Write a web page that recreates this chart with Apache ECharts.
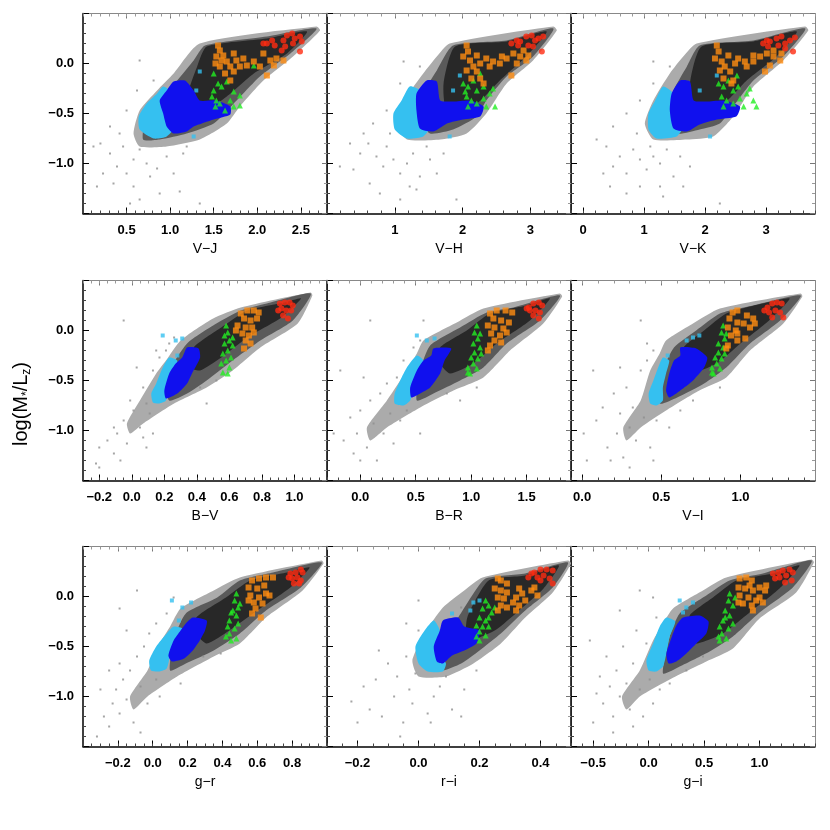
<!DOCTYPE html>
<html>
<head>
<meta charset="utf-8">
<script src="https://cdn.jsdelivr.net/npm/echarts@6/dist/echarts.min.js"></script>
<style>
  html, body { margin: 0; padding: 0; background: #fff; }
  #chart { width: 830px; height: 830px; }
</style>
</head>
<body>
<div id="chart"></div>
<script>
// ---------- axes ----------
const xNames = ['V\u2212J', 'V\u2212H', 'V\u2212K', 'B\u2212V', 'B\u2212R', 'V\u2212I', 'g\u2212r', 'r\u2212i', 'g\u2212i'];
const xMins = [0, 0, -0.2, -0.3, -0.3, -0.07, -0.4, -0.3, -0.7];
const xMaxs = [2.8, 3.6, 3.8, 1.2, 1.9, 1.47, 1.0, 0.5, 1.5];
const xMajor = [
  [0.5, 1.0, 1.5, 2.0, 2.5], [1, 2, 3], [0, 1, 2, 3],
  [-0.2, 0.0, 0.2, 0.4, 0.6, 0.8, 1.0], [0.0, 0.5, 1.0, 1.5], [0.0, 0.5, 1.0],
  [-0.2, 0.0, 0.2, 0.4, 0.6, 0.8], [-0.2, 0.0, 0.2, 0.4], [-0.5, 0.0, 0.5, 1.0]
];
const xMinorStep = [0.1, 0.2, 0.2, 0.05, 0.1, 0.1, 0.05, 0.05, 0.1];
const xDecimals = [1, 0, 0, 1, 1, 1, 1, 1, 1];
const yMin = -1.5, yMax = 0.5, yStep = 0.5;

// ---------- V-J ----------
const vjHalo = [[1.34,0.20],[2.68,0.37],[2.72,0.33],[2.41,0.07],[2.07,-0.17],[1.80,-0.43],[1.65,-0.60],[1.34,-0.76],[0.96,-0.83],[0.65,-0.83],[0.58,-0.70],[0.65,-0.47],[0.85,-0.27],[1.04,-0.10]];
const vjDense = [[1.40,0.18],[2.11,0.27],[2.68,0.35],[2.38,0.10],[2.03,-0.13],[1.73,-0.40],[1.50,-0.60],[1.19,-0.70],[0.88,-0.76],[0.69,-0.76],[0.73,-0.50],[0.88,-0.33],[1.08,-0.17],[1.27,0.03]];
const vjCore = [[1.42,0.17],[2.11,0.25],[2.57,0.32],[2.34,0.10],[1.96,-0.10],[1.65,-0.33],[1.34,-0.50],[1.19,-0.37],[1.31,-0.03]];
const vjSparse = [[0.20,-0.80],[0.31,-0.90],[0.39,-1.03],[0.50,-1.10],[0.58,-0.96],[0.65,-0.86],[0.42,-0.70],[0.23,-1.10],[0.12,-0.83],[0.58,-1.23],[0.77,-1.13],[0.96,-0.93],[1.04,-1.10],[1.15,-0.90],[0.88,-1.30],[0.35,-1.20],[0.65,-1.36],[1.34,-1.40],[0.50,-0.47],[0.62,-0.27],[0.65,0.03],[0.81,-0.17],[0.31,-0.63],[0.16,-1.23],[0.73,-1.00],[0.46,-0.83],[1.11,-1.28],[0.85,-1.05],[1.19,-0.83],[0.54,-1.40]];
const vjCyan = [[0.92,-0.23],[1.04,-0.30],[1.00,-0.47],[1.08,-0.60],[0.96,-0.73],[0.81,-0.75],[0.65,-0.66],[0.64,-0.53],[0.73,-0.40],[0.85,-0.30]];
const vjCyanPts = [[1.34,-0.08],[1.30,-0.27],[1.27,-0.73]];
const vjBlue = [[1.04,-0.18],[1.17,-0.17],[1.27,-0.27],[1.34,-0.37],[1.53,-0.37],[1.69,-0.43],[1.69,-0.51],[1.50,-0.56],[1.27,-0.63],[1.19,-0.68],[1.04,-0.70],[0.96,-0.63],[0.92,-0.50],[0.88,-0.37],[0.96,-0.27]];
const vjGreen = [[1.50,-0.10],[1.55,-0.20],[1.59,-0.23],[1.65,-0.18],[1.73,-0.28],[1.80,-0.32],[1.50,-0.27],[1.53,-0.37],[1.57,-0.40],[1.69,-0.37],[1.73,-0.43],[1.80,-0.42],[1.52,-0.43],[1.48,-0.33],[1.96,-0.02],[1.63,-0.47]];
const vjOrange = [[1.55,0.18],[1.57,0.13],[1.53,0.07],[1.61,0.08],[1.65,0.02],[1.69,-0.03],[1.73,-0.08],[1.57,-0.03],[1.63,-0.10],[1.69,-0.17],[1.76,0.03],[1.84,0.05],[1.96,0.02],[2.07,0.10],[2.15,0.03],[2.22,0.05],[2.30,0.03],[2.11,-0.12],[2.03,-0.03],[1.88,-0.02],[1.80,-0.03],[1.52,0.00],[1.59,0.03],[2.19,-0.02],[1.73,0.10]];
const vjRed = [[2.11,0.20],[2.17,0.23],[2.20,0.18],[2.30,0.23],[2.34,0.28],[2.40,0.30],[2.43,0.25],[2.49,0.27],[2.51,0.22],[2.32,0.17],[2.41,0.20],[2.49,0.12],[2.28,0.13],[2.07,0.20]];

// ---------- V-H ----------
const vhHalo = [[1.81,0.20],[3.34,0.37],[3.39,0.33],[3.04,0.03],[2.65,-0.20],[2.35,-0.50],[2.06,-0.70],[1.67,-0.76],[1.18,-0.76],[1.03,-0.60],[1.18,-0.33],[1.42,-0.10],[1.62,0.07]];
const vhDense = [[1.86,0.18],[2.65,0.23],[3.34,0.35],[3.04,0.07],[2.65,-0.13],[2.35,-0.37],[2.21,-0.53],[1.86,-0.66],[1.52,-0.70],[1.37,-0.56],[1.42,-0.30],[1.62,-0.07]];
const vhCore = [[1.89,0.17],[2.65,0.22],[3.24,0.32],[2.94,0.07],[2.55,-0.17],[2.21,-0.40],[1.77,-0.47],[1.72,-0.20]];
const vhSparse = [[0.34,-0.80],[0.49,-0.90],[0.63,-1.20],[0.73,-0.93],[0.83,-1.03],[0.88,-0.83],[0.98,-0.96],[1.08,-1.10],[1.18,-1.00],[1.27,-0.90],[1.37,-1.13],[1.47,-0.83],[0.78,-1.30],[1.08,-1.36],[1.62,-1.10],[1.91,-1.36],[0.54,-0.70],[0.68,-0.60],[0.88,-0.47],[1.08,-0.20],[1.13,0.02],[1.37,-0.03],[0.19,-1.03],[1.22,-1.23],[1.52,-0.96],[1.72,-0.90],[0.93,-0.70],[0.39,-1.06],[0.61,-0.80],[1.32,-1.26]];
const vhCyan = [[1.22,-0.23],[1.37,-0.27],[1.37,-0.47],[1.52,-0.63],[1.42,-0.73],[1.18,-0.75],[1.00,-0.66],[0.98,-0.50],[1.10,-0.37]];
const vhCyanPts = [[1.86,-0.27],[1.81,-0.73],[1.96,-0.12]];
const vhBlue = [[1.47,-0.17],[1.62,-0.18],[1.67,-0.37],[1.86,-0.38],[2.11,-0.37],[2.31,-0.43],[2.26,-0.53],[2.01,-0.56],[1.77,-0.60],[1.57,-0.68],[1.37,-0.65],[1.32,-0.47],[1.32,-0.30]];
const vhGreen = [[2.01,-0.20],[2.08,-0.23],[2.16,-0.17],[2.21,-0.27],[2.31,-0.23],[2.40,-0.30],[2.45,-0.25],[2.06,-0.33],[2.13,-0.37],[2.21,-0.40],[2.31,-0.35],[2.35,-0.43],[2.48,-0.43],[2.08,-0.43],[2.26,-0.10],[2.04,-0.28]];
const vhOrange = [[2.06,0.18],[2.08,0.12],[2.01,0.07],[2.11,0.03],[2.16,-0.03],[2.21,-0.08],[2.06,-0.07],[2.26,-0.15],[2.31,-0.20],[2.21,0.08],[2.35,0.05],[2.45,0.02],[2.55,0.00],[2.65,0.05],[2.75,0.10],[2.85,0.07],[2.94,0.03],[2.80,0.00],[2.72,-0.12],[2.90,0.13],[2.13,-0.15],[2.40,-0.03],[2.58,0.07],[2.97,0.08],[2.26,0.00]];
const vhRed = [[2.72,0.20],[2.80,0.23],[2.85,0.22],[2.94,0.27],[3.02,0.28],[3.07,0.23],[3.12,0.25],[3.19,0.27],[2.97,0.18],[3.04,0.17],[3.17,0.12],[2.82,0.18]];

// ---------- V-K ----------
const vkHalo = [[1.86,0.20],[3.64,0.37],[3.69,0.33],[3.28,0.03],[2.79,-0.23],[2.46,-0.53],[2.13,-0.73],[1.70,-0.76],[1.15,-0.76],[1.01,-0.60],[1.15,-0.37],[1.42,-0.10],[1.64,0.07]];
const vkDense = [[1.91,0.18],[2.79,0.23],[3.64,0.35],[3.28,0.07],[2.79,-0.17],[2.46,-0.43],[2.24,-0.60],[1.91,-0.66],[1.53,-0.70],[1.37,-0.53],[1.48,-0.27],[1.70,-0.03]];
const vkCore = [[1.94,0.17],[2.79,0.22],[3.50,0.32],[3.17,0.07],[2.68,-0.17],[2.30,-0.40],[1.81,-0.47],[1.75,-0.20]];
const vkSparse = [[0.22,-0.76],[0.38,-0.83],[0.49,-1.03],[0.60,-0.93],[0.71,-1.10],[0.82,-0.86],[0.93,-0.96],[1.04,-1.06],[1.15,-0.93],[1.26,-1.00],[1.37,-0.86],[1.48,-1.13],[0.71,-1.30],[0.93,-1.23],[1.64,-1.23],[2.24,-1.40],[0.49,-0.63],[0.71,-0.50],[0.93,-0.37],[1.15,-0.20],[1.15,0.02],[1.42,-0.03],[0.33,-1.10],[1.26,-1.23],[1.59,-0.93],[1.75,-1.03],[0.88,-0.70],[0.44,-1.23],[1.10,-0.83],[1.31,-1.33]];
const vkCyan = [[1.31,-0.23],[1.48,-0.30],[1.48,-0.47],[1.64,-0.63],[1.53,-0.73],[1.20,-0.75],[1.07,-0.66],[1.07,-0.50],[1.18,-0.37]];
const vkCyanPts = [[2.08,-0.73],[2.19,-0.12],[1.91,-0.27]];
const vkBlue = [[1.59,-0.17],[1.75,-0.18],[1.81,-0.37],[2.02,-0.38],[2.30,-0.37],[2.57,-0.43],[2.51,-0.53],[2.19,-0.56],[1.91,-0.61],[1.70,-0.68],[1.48,-0.65],[1.42,-0.47],[1.45,-0.30]];
const vkGreen = [[2.22,-0.20],[2.30,-0.23],[2.38,-0.17],[2.46,-0.27],[2.54,-0.23],[2.68,-0.30],[2.73,-0.25],[2.27,-0.33],[2.35,-0.37],[2.46,-0.40],[2.57,-0.35],[2.63,-0.43],[2.84,-0.43],[2.30,-0.43],[2.52,-0.12],[2.79,-0.37]];
const vkOrange = [[2.19,0.18],[2.22,0.12],[2.16,0.05],[2.27,0.02],[2.32,-0.03],[2.41,-0.08],[2.24,-0.07],[2.46,-0.17],[2.43,-0.20],[2.38,0.08],[2.54,0.05],[2.65,0.02],[2.79,0.02],[2.90,0.07],[3.01,0.10],[3.12,0.07],[3.23,0.03],[3.06,-0.02],[2.98,-0.08],[3.12,0.13],[2.30,-0.15],[2.68,-0.03],[2.79,0.08],[3.25,0.10],[2.49,0.00]];
const vkRed = [[2.95,0.20],[3.01,0.23],[3.06,0.22],[3.17,0.25],[3.25,0.27],[3.31,0.20],[3.39,0.23],[3.47,0.26],[3.20,0.18],[3.31,0.15],[3.44,0.12],[3.03,0.17]];

// ---------- B-V ----------
const bvHalo = [[0.30,-0.10],[0.50,0.12],[0.67,0.23],[1.10,0.38],[1.11,0.35],[1.02,0.07],[0.79,-0.17],[0.62,-0.40],[0.46,-0.57],[0.26,-0.73],[0.07,-0.93],[-0.01,-1.03],[-0.03,-0.93],[0.05,-0.70],[0.15,-0.43],[0.21,-0.30]];
const bvDense = [[0.34,-0.13],[0.52,0.07],[0.67,0.20],[0.83,0.27],[1.10,0.37],[0.99,0.10],[0.79,-0.10],[0.62,-0.30],[0.46,-0.50],[0.34,-0.63],[0.23,-0.70],[0.21,-0.47]];
const bvCore = [[0.38,-0.17],[0.55,0.03],[0.71,0.20],[0.94,0.28],[1.04,0.32],[0.92,0.13],[0.71,-0.07],[0.55,-0.27],[0.42,-0.40],[0.36,-0.37]];
const bvSparse = [[-0.22,-1.33],[-0.20,-1.17],[-0.15,-1.10],[-0.11,-1.23],[-0.09,-1.03],[-0.07,-1.30],[-0.05,-0.90],[-0.03,-1.13],[0.01,-0.80],[0.05,-0.97],[0.07,-0.57],[0.09,-1.17],[0.13,-0.40],[0.17,-0.27],[0.15,-0.20],[0.23,-0.13],[0.07,-1.07],[-0.20,-1.37],[0.26,-0.07],[0.21,-0.20],[0.09,-0.73],[0.13,-1.03],[0.03,-0.37],[-0.01,-0.70],[-0.05,0.10],[0.11,-0.83],[-0.11,-0.97],[0.42,-0.57],[0.52,-0.50],[0.46,-0.73]];
const bvCyan = [[0.23,-0.27],[0.28,-0.30],[0.26,-0.43],[0.23,-0.57],[0.21,-0.70],[0.17,-0.73],[0.13,-0.72],[0.12,-0.63],[0.15,-0.53],[0.19,-0.37]];
const bvCyanPts = [[0.19,-0.05],[0.27,-0.10],[0.31,-0.08],[0.28,-0.25]];
const bvBlue = [[0.34,-0.17],[0.41,-0.18],[0.42,-0.27],[0.37,-0.43],[0.34,-0.53],[0.28,-0.63],[0.21,-0.68],[0.20,-0.60],[0.23,-0.43],[0.27,-0.33],[0.31,-0.27]];
const bvGreen = [[0.58,0.05],[0.59,-0.02],[0.60,-0.10],[0.57,-0.13],[0.62,-0.15],[0.59,-0.20],[0.56,-0.23],[0.61,-0.27],[0.58,-0.30],[0.55,-0.33],[0.60,-0.37],[0.56,-0.42],[0.59,-0.43],[0.62,-0.07],[0.57,-0.05]];
const bvOrange = [[0.67,0.17],[0.71,0.20],[0.75,0.20],[0.78,0.18],[0.69,0.12],[0.73,0.10],[0.77,0.12],[0.65,0.05],[0.70,0.03],[0.74,0.03],[0.68,-0.03],[0.72,-0.05],[0.75,-0.02],[0.70,-0.10],[0.73,-0.13],[0.69,-0.18],[0.64,0.00]];
const bvRed = [[0.91,0.27],[0.94,0.28],[0.97,0.28],[0.99,0.25],[0.92,0.22],[0.95,0.20],[0.98,0.20],[0.93,0.15],[0.96,0.12],[0.90,0.20]];

// ---------- B-R ----------
const brHalo = [[0.57,-0.10],[0.87,0.08],[1.11,0.22],[1.80,0.37],[1.82,0.34],[1.65,0.07],[1.35,-0.20],[1.11,-0.47],[0.84,-0.60],[0.54,-0.77],[0.24,-0.97],[0.09,-1.10],[0.06,-0.97],[0.24,-0.70],[0.42,-0.40],[0.51,-0.23]];
const brDense = [[0.63,-0.15],[0.90,0.03],[1.14,0.18],[1.38,0.23],[1.80,0.35],[1.62,0.10],[1.32,-0.13],[1.11,-0.37],[0.90,-0.50],[0.66,-0.63],[0.51,-0.70],[0.54,-0.40]];
const brCore = [[0.72,-0.17],[0.96,0.00],[1.17,0.17],[1.50,0.25],[1.71,0.32],[1.53,0.10],[1.23,-0.13],[1.02,-0.33],[0.81,-0.43],[0.72,-0.33]];
const brSparse = [[-0.24,-1.03],[-0.15,-1.10],[-0.09,-0.87],[-0.06,-1.23],[-0.03,-1.03],[0.00,-0.80],[0.06,-1.17],[0.09,-0.70],[0.12,-0.93],[0.15,-1.30],[0.18,-0.63],[0.21,-1.03],[0.24,-0.53],[0.27,-0.83],[0.33,-0.47],[0.39,-0.30],[0.48,-0.17],[0.54,-0.10],[0.09,0.10],[0.57,0.10],[-0.18,-0.40],[0.03,-0.47],[0.36,-0.90],[0.42,-0.80],[0.54,-1.03],[0.78,-0.63],[0.90,-0.70],[1.05,-0.57],[0.00,-1.30],[0.30,-1.13]];
const brCyan = [[0.51,-0.25],[0.57,-0.30],[0.51,-0.43],[0.48,-0.57],[0.45,-0.70],[0.39,-0.75],[0.31,-0.73],[0.31,-0.63],[0.36,-0.50],[0.42,-0.37]];
const brCyanPts = [[0.51,-0.05],[0.60,-0.10],[0.67,-0.08]];
const brBlue = [[0.66,-0.18],[0.82,-0.18],[0.76,-0.30],[0.72,-0.43],[0.63,-0.57],[0.54,-0.63],[0.46,-0.67],[0.45,-0.57],[0.51,-0.40],[0.57,-0.30],[0.64,-0.25]];
const brGreen = [[1.05,0.05],[1.03,-0.02],[1.06,-0.08],[1.02,-0.13],[1.08,-0.17],[1.03,-0.22],[1.00,-0.27],[1.06,-0.28],[1.02,-0.33],[0.97,-0.37],[1.05,-0.38],[0.99,-0.43],[1.09,-0.23],[1.08,-0.03],[0.97,-0.42]];
const brOrange = [[1.17,0.17],[1.23,0.20],[1.31,0.20],[1.37,0.18],[1.20,0.12],[1.27,0.10],[1.34,0.08],[1.15,0.05],[1.21,0.03],[1.29,0.02],[1.18,-0.03],[1.26,-0.05],[1.32,-0.02],[1.21,-0.10],[1.17,-0.15],[1.15,-0.20],[1.27,-0.12]];
const brRed = [[1.52,0.23],[1.56,0.27],[1.61,0.28],[1.64,0.25],[1.53,0.20],[1.58,0.20],[1.62,0.18],[1.56,0.15],[1.61,0.12],[1.50,0.22]];

// ---------- V-I ----------
const viHalo = [[0.53,-0.10],[0.70,0.07],[0.87,0.22],[1.38,0.37],[1.39,0.34],[1.27,0.07],[1.06,-0.20],[0.91,-0.47],[0.74,-0.60],[0.53,-0.80],[0.37,-0.97],[0.28,-1.10],[0.26,-0.97],[0.37,-0.70],[0.43,-0.40],[0.49,-0.23]];
const viDense = [[0.58,-0.17],[0.72,0.00],[0.87,0.17],[1.08,0.25],[1.38,0.35],[1.25,0.10],[1.06,-0.13],[0.91,-0.37],[0.77,-0.53],[0.60,-0.67],[0.49,-0.73],[0.51,-0.40]];
const viCore = [[0.64,-0.17],[0.77,0.00],[0.91,0.17],[1.14,0.27],[1.31,0.32],[1.18,0.10],[1.00,-0.13],[0.85,-0.33],[0.68,-0.43],[0.64,-0.33]];
const viSparse = [[0.01,-1.03],[0.03,-1.30],[0.09,-0.90],[0.13,-0.77],[0.16,-1.17],[0.20,-0.63],[0.22,-1.03],[0.24,-0.83],[0.26,-1.27],[0.28,-0.57],[0.30,-0.97],[0.32,-0.77],[0.34,-1.10],[0.37,-0.40],[0.39,-0.87],[0.41,-0.30],[0.45,-0.20],[0.43,-1.17],[0.37,0.10],[0.45,-1.30],[0.24,-0.37],[0.55,-0.97],[0.62,-0.80],[0.70,-0.70],[0.30,-1.37],[0.18,-1.30],[0.47,-0.90],[0.07,-0.40],[0.41,-0.13],[0.87,-0.57]];
const viCyan = [[0.51,-0.27],[0.55,-0.30],[0.53,-0.43],[0.51,-0.57],[0.51,-0.70],[0.47,-0.75],[0.43,-0.73],[0.42,-0.63],[0.45,-0.50],[0.48,-0.37]];
const viCyanPts = [[0.66,-0.10],[0.70,-0.07],[0.74,-0.05],[0.54,-0.25]];
const viBlue = [[0.62,-0.17],[0.72,-0.18],[0.79,-0.27],[0.77,-0.37],[0.70,-0.50],[0.62,-0.60],[0.55,-0.67],[0.53,-0.60],[0.55,-0.43],[0.58,-0.30],[0.62,-0.25]];
const viGreen = [[0.89,0.05],[0.88,-0.02],[0.90,-0.08],[0.86,-0.13],[0.89,-0.17],[0.86,-0.22],[0.84,-0.27],[0.88,-0.28],[0.85,-0.33],[0.82,-0.37],[0.87,-0.38],[0.83,-0.43],[0.90,-0.23],[0.91,-0.03],[0.82,-0.42]];
const viOrange = [[0.95,0.18],[0.98,0.20],[1.04,0.15],[1.08,0.12],[0.93,0.12],[0.98,0.08],[1.02,0.07],[0.92,0.03],[0.97,0.00],[1.06,0.03],[1.09,0.07],[0.94,-0.05],[0.98,-0.03],[0.98,-0.10],[0.92,-0.15],[0.91,-0.18],[1.03,-0.08]];
const viRed = [[1.17,0.23],[1.20,0.27],[1.23,0.28],[1.26,0.27],[1.18,0.18],[1.22,0.20],[1.25,0.18],[1.20,0.13],[1.27,0.13],[1.15,0.20]];

// ---------- g-r ----------
const grHalo = [[0.16,-0.12],[0.35,0.06],[0.50,0.19],[0.97,0.36],[0.98,0.33],[0.86,0.06],[0.65,-0.21],[0.50,-0.47],[0.35,-0.60],[0.14,-0.80],[-0.03,-1.00],[-0.11,-1.13],[-0.13,-1.00],[-0.03,-0.74],[0.04,-0.47],[0.10,-0.30]];
const grDense = [[0.19,-0.17],[0.37,-0.01],[0.50,0.16],[0.69,0.24],[0.97,0.34],[0.85,0.09],[0.65,-0.14],[0.50,-0.37],[0.35,-0.54],[0.19,-0.67],[0.10,-0.74],[0.12,-0.44]];
const grCore = [[0.25,-0.21],[0.42,-0.01],[0.56,0.16],[0.77,0.24],[0.90,0.29],[0.79,0.09],[0.60,-0.14],[0.44,-0.34],[0.31,-0.47],[0.25,-0.37]];
const grSparse = [[-0.32,-1.40],[-0.28,-1.20],[-0.25,-1.30],[-0.23,-1.07],[-0.21,-0.93],[-0.19,-1.17],[-0.17,-0.83],[-0.15,-1.03],[-0.13,-0.74],[-0.11,-1.26],[-0.09,-0.60],[-0.07,-0.90],[-0.05,-0.50],[-0.03,-1.07],[-0.02,-0.37],[0.02,-0.27],[0.08,-0.17],[-0.19,-0.12],[-0.09,0.06],[0.02,-0.83],[0.04,-1.00],[-0.25,-0.74],[-0.30,-0.93],[-0.15,-0.34],[0.12,-0.01],[0.29,-0.60],[0.39,-0.57],[0.16,-0.87],[-0.07,-1.36],[-0.19,-0.67]];
const grCyan = [[0.12,-0.30],[0.17,-0.32],[0.14,-0.47],[0.10,-0.60],[0.08,-0.72],[0.04,-0.75],[-0.01,-0.74],[-0.02,-0.64],[0.02,-0.50],[0.08,-0.37]];
const grCyanPts = [[0.11,-0.04],[0.17,-0.11],[0.22,-0.06],[0.15,-0.24]];
const grBlue = [[0.23,-0.21],[0.31,-0.24],[0.30,-0.34],[0.27,-0.44],[0.23,-0.54],[0.18,-0.62],[0.11,-0.65],[0.09,-0.59],[0.12,-0.44],[0.16,-0.34],[0.19,-0.27]];
const grGreen = [[0.48,0.03],[0.47,-0.04],[0.49,-0.11],[0.45,-0.16],[0.48,-0.19],[0.44,-0.24],[0.43,-0.30],[0.47,-0.32],[0.44,-0.37],[0.42,-0.40],[0.48,-0.42],[0.45,-0.44],[0.49,-0.27],[0.50,-0.07],[0.46,-0.14]];
const grOrange = [[0.57,0.16],[0.61,0.18],[0.65,0.19],[0.69,0.19],[0.55,0.09],[0.60,0.08],[0.64,0.11],[0.56,0.01],[0.61,-0.01],[0.65,0.03],[0.58,-0.06],[0.63,-0.07],[0.59,-0.12],[0.57,-0.17],[0.62,-0.21],[0.67,0.01],[0.55,-0.04]];
const grRed = [[0.79,0.23],[0.82,0.24],[0.85,0.27],[0.86,0.24],[0.80,0.18],[0.83,0.19],[0.85,0.16],[0.81,0.13],[0.84,0.13],[0.78,0.19]];

// ---------- r-i ----------
const riHalo = [[0.21,0.19],[0.49,0.36],[0.50,0.33],[0.44,0.04],[0.35,-0.21],[0.27,-0.47],[0.18,-0.67],[0.09,-0.80],[0.00,-0.80],[-0.02,-0.64],[0.02,-0.37],[0.08,-0.11],[0.15,0.06]];
const riDense = [[0.22,0.18],[0.35,0.23],[0.49,0.34],[0.44,0.09],[0.35,-0.14],[0.27,-0.37],[0.20,-0.54],[0.14,-0.67],[0.07,-0.74],[0.07,-0.47],[0.13,-0.21],[0.18,0.03]];
const riCore = [[0.23,0.16],[0.35,0.21],[0.46,0.31],[0.41,0.08],[0.33,-0.14],[0.25,-0.34],[0.16,-0.44],[0.16,-0.21]];
const riSparse = [[-0.22,-1.05],[-0.20,-1.26],[-0.18,-0.90],[-0.16,-1.13],[-0.14,-0.83],[-0.12,-1.20],[-0.10,-0.67],[-0.08,-1.00],[-0.07,-0.80],[-0.05,-1.26],[-0.04,-0.60],[-0.03,-0.93],[-0.02,-1.07],[-0.01,-0.77],[0.00,-0.34],[0.03,-1.17],[0.05,-1.00],[0.07,-0.90],[0.09,-0.80],[0.11,-1.13],[0.14,-1.20],[0.15,-0.93],[0.19,-0.74],[-0.04,-0.27],[0.00,-0.04],[0.07,-0.34],[0.14,-0.11],[-0.06,-1.40],[-0.13,-0.54],[0.04,-1.26]];
const riCyan = [[0.05,-0.24],[0.07,-0.34],[0.06,-0.50],[0.09,-0.67],[0.08,-0.75],[0.03,-0.75],[0.00,-0.67],[-0.01,-0.50],[0.02,-0.34]];
const riCyanPts = [[0.18,-0.06],[0.17,-0.14],[0.11,-0.17],[0.20,-0.04]];
const riBlue = [[0.08,-0.24],[0.13,-0.21],[0.15,-0.30],[0.20,-0.34],[0.19,-0.47],[0.15,-0.54],[0.11,-0.59],[0.08,-0.67],[0.06,-0.65],[0.05,-0.50],[0.07,-0.34]];
const riGreen = [[0.22,-0.04],[0.23,-0.09],[0.21,-0.12],[0.24,-0.16],[0.20,-0.21],[0.22,-0.24],[0.19,-0.29],[0.21,-0.30],[0.20,-0.35],[0.19,-0.40],[0.22,-0.39],[0.20,-0.44],[0.23,-0.21],[0.23,-0.30],[0.25,-0.11]];
const riOrange = [[0.26,0.18],[0.27,0.16],[0.29,0.13],[0.25,0.08],[0.27,0.06],[0.29,0.04],[0.26,-0.01],[0.28,-0.02],[0.27,-0.09],[0.29,-0.11],[0.32,-0.14],[0.32,-0.01],[0.34,0.03],[0.37,0.06],[0.38,0.09],[0.33,0.08],[0.35,-0.04],[0.39,0.01],[0.31,-0.06],[0.26,-0.14],[0.33,-0.09]];
const riRed = [[0.37,0.23],[0.38,0.24],[0.40,0.27],[0.42,0.27],[0.44,0.26],[0.39,0.19],[0.41,0.21],[0.43,0.18],[0.40,0.16],[0.44,0.13],[0.36,0.19]];

// ---------- g-i ----------
const giHalo = [[0.22,-0.12],[0.49,0.06],[0.70,0.19],[1.47,0.37],[1.49,0.34],[1.33,0.04],[1.00,-0.22],[0.76,-0.52],[0.52,-0.65],[0.19,-0.83],[-0.08,-1.00],[-0.20,-1.13],[-0.24,-1.00],[-0.08,-0.74],[0.04,-0.44],[0.13,-0.27]];
const giDense = [[0.28,-0.17],[0.52,0.01],[0.73,0.16],[1.03,0.23],[1.47,0.36],[1.30,0.09],[1.00,-0.16],[0.76,-0.40],[0.55,-0.55],[0.28,-0.70],[0.13,-0.77],[0.19,-0.40]];
const giCore = [[0.37,-0.19],[0.58,-0.01],[0.79,0.16],[1.12,0.23],[1.36,0.31],[1.18,0.08],[0.91,-0.16],[0.67,-0.37],[0.43,-0.47],[0.37,-0.37]];
const giSparse = [[-0.53,-0.44],[-0.50,-1.26],[-0.44,-0.80],[-0.41,-1.07],[-0.38,-0.60],[-0.35,-0.90],[-0.32,-1.20],[-0.29,-0.74],[-0.26,-1.00],[-0.23,-0.50],[-0.20,-0.87],[-0.17,-1.13],[-0.14,-0.67],[-0.11,-0.34],[-0.08,-0.93],[-0.05,-1.20],[-0.02,-0.47],[0.01,-0.83],[0.04,-1.07],[0.07,-0.21],[-0.26,-0.14],[-0.08,0.06],[0.10,-0.93],[0.19,-0.87],[-0.32,-1.36],[-0.14,-1.30],[0.34,-0.74],[0.49,-0.60],[-0.47,-0.97],[0.04,-0.01]];
const giCyan = [[0.16,-0.21],[0.24,-0.25],[0.19,-0.40],[0.16,-0.57],[0.13,-0.70],[0.07,-0.75],[0.00,-0.74],[-0.02,-0.64],[0.04,-0.47],[0.10,-0.30]];
const giCyanPts = [[0.28,-0.04],[0.34,-0.11],[0.31,-0.16],[0.40,-0.06]];
const giBlue = [[0.31,-0.21],[0.46,-0.19],[0.54,-0.25],[0.52,-0.37],[0.43,-0.47],[0.34,-0.57],[0.25,-0.65],[0.18,-0.67],[0.16,-0.57],[0.21,-0.40],[0.25,-0.29]];
const giGreen = [[0.73,0.03],[0.72,-0.04],[0.76,-0.09],[0.69,-0.14],[0.73,-0.19],[0.67,-0.24],[0.64,-0.30],[0.72,-0.32],[0.66,-0.37],[0.63,-0.40],[0.70,-0.42],[0.64,-0.44],[0.76,-0.27],[0.78,-0.01],[0.69,-0.21]];
const giOrange = [[0.82,0.18],[0.88,0.19],[0.93,0.16],[0.81,0.09],[0.87,0.08],[0.94,0.06],[0.82,0.01],[0.90,-0.01],[0.85,-0.07],[0.93,-0.09],[0.94,-0.14],[1.00,-0.01],[1.05,0.06],[1.06,0.11],[1.00,0.09],[0.97,-0.04],[0.81,-0.06],[0.91,0.11],[1.03,-0.06]];
const giRed = [[1.12,0.23],[1.17,0.24],[1.21,0.26],[1.27,0.27],[1.30,0.24],[1.18,0.19],[1.24,0.21],[1.29,0.16],[1.23,0.14],[1.14,0.18]];

// panel list built from the arrays above (row by row)
const panels = [
  [vjHalo, vjDense, vjCore, vjSparse, vjCyan, vjCyanPts, vjBlue, vjGreen, vjOrange, vjRed],
  [vhHalo, vhDense, vhCore, vhSparse, vhCyan, vhCyanPts, vhBlue, vhGreen, vhOrange, vhRed],
  [vkHalo, vkDense, vkCore, vkSparse, vkCyan, vkCyanPts, vkBlue, vkGreen, vkOrange, vkRed],
  [bvHalo, bvDense, bvCore, bvSparse, bvCyan, bvCyanPts, bvBlue, bvGreen, bvOrange, bvRed],
  [brHalo, brDense, brCore, brSparse, brCyan, brCyanPts, brBlue, brGreen, brOrange, brRed],
  [viHalo, viDense, viCore, viSparse, viCyan, viCyanPts, viBlue, viGreen, viOrange, viRed],
  [grHalo, grDense, grCore, grSparse, grCyan, grCyanPts, grBlue, grGreen, grOrange, grRed],
  [riHalo, riDense, riCore, riSparse, riCyan, riCyanPts, riBlue, riGreen, riOrange, riRed],
  [giHalo, giDense, giCore, giSparse, giCyan, giCyanPts, giBlue, giGreen, giOrange, giRed]
];

const FONT = '"Liberation Sans", Arial, Helvetica, sans-serif';
const colLeft = [83, 327, 571];
const rowTop = [13.5, 280.5, 546.5];
const cellW = 244, cellH = 200;

function fmt(v, d) {
  const s = Math.abs(v).toFixed(d);
  return (v < -1e-9 ? '\u2212' : '') + s;
}
function minorTicks(i) {
  const step = xMinorStep[i], out = [];
  let k = Math.ceil(xMins[i] / step - 1e-6);
  for (; k * step <= xMaxs[i] + 1e-9; k++) out.push(+(k * step).toFixed(4));
  return out;
}

const grids = [], xAxes = [], yAxes = [], series = [];

function polygon(g, pts, color, z) {
  return {
    type: 'custom', xAxisIndex: g * 4, yAxisIndex: g * 2, data: pts, z: z, silent: true, clip: true,
    renderItem: function (params, api) {
      if (params.dataIndex !== 0) return null;
      return {
        type: 'polygon',
        shape: { points: pts.map(p => api.coord(p)), smooth: 0.2 },
        style: { fill: color }
      };
    }
  };
}
function dots(g, pts, symbol, size, color, z) {
  return {
    type: 'scatter', xAxisIndex: g * 4, yAxisIndex: g * 2, data: pts, z: z, silent: true,
    symbol: symbol, symbolSize: size, itemStyle: { color: color }
  };
}

for (let g = 0; g < 9; g++) {
  const row = Math.floor(g / 3), col = g % 3;
  grids.push({ left: colLeft[col], top: rowTop[row], width: cellW, height: cellH, containLabel: false });
  const base = { type: 'value', gridIndex: g, min: xMins[g], max: xMaxs[g], splitLine: { show: false } };
  const minors = minorTicks(g);
  // bottom: major ticks + labels + name
  xAxes.push(Object.assign({}, base, {
    position: 'bottom', name: xNames[g], nameLocation: 'middle', nameGap: 29,
    nameTextStyle: { fontFamily: FONT, fontSize: 14, color: '#000' },
    axisLine: { show: true, onZero: false, lineStyle: { color: '#000', width: 1.5 } },
    axisTick: { show: true, inside: true, length: 6, customValues: xMajor[g], lineStyle: { color: '#000' } },
    axisLabel: { show: true, customValues: xMajor[g], margin: 10, fontFamily: FONT, fontSize: 13,
      fontWeight: 'bold', color: '#000', formatter: v => fmt(v, xDecimals[g]) }
  }));
  // bottom minor ticks
  xAxes.push(Object.assign({}, base, {
    position: 'bottom', axisLine: { show: false, onZero: false }, axisLabel: { show: false },
    axisTick: { show: true, inside: true, length: 3, customValues: minors, lineStyle: { color: '#444' } }
  }));
  // top major
  xAxes.push(Object.assign({}, base, {
    position: 'top', axisLine: { show: true, onZero: false, lineStyle: { color: '#888', width: 1 } }, axisLabel: { show: false },
    axisTick: { show: true, inside: true, length: 5, customValues: xMajor[g], lineStyle: { color: '#777' } }
  }));
  // top minor
  xAxes.push(Object.assign({}, base, {
    position: 'top', axisLine: { show: false, onZero: false }, axisLabel: { show: false },
    axisTick: { show: true, inside: true, length: 3, customValues: minors, lineStyle: { color: '#999' } }
  }));
  // left
  yAxes.push({
    type: 'value', gridIndex: g, position: 'left', min: yMin, max: yMax, interval: yStep,
    splitLine: { show: false },
    axisLine: { show: true, onZero: false, lineStyle: { color: '#000', width: 1.5 } },
    axisTick: { show: true, inside: true, length: 6, lineStyle: { color: '#000' } },
    minorTick: { show: true, splitNumber: 5, length: 3, lineStyle: { color: '#444' } },
    axisLabel: { show: col === 0, margin: 9, fontFamily: FONT, fontSize: 13, fontWeight: 'bold', color: '#000',
      formatter: v => (v >= 0.49 || v <= -1.49) ? '' : fmt(v, 1) }
  });
  // right
  yAxes.push({
    type: 'value', gridIndex: g, position: 'right', min: yMin, max: yMax, interval: yStep,
    splitLine: { show: false },
    axisLine: { show: true, onZero: false, lineStyle: { color: '#888', width: 1 } },
    axisTick: { show: true, inside: true, length: 5, lineStyle: { color: '#777' } },
    minorTick: { show: true, splitNumber: 5, length: 3, lineStyle: { color: '#999' } },
    axisLabel: { show: false }
  });

  const p = panels[g];
  series.push(polygon(g, p[0], '#ababab', 1));
  series.push(polygon(g, p[1], '#5a5a5a', 2));
  series.push(polygon(g, p[2], '#282828', 3));
  series.push(dots(g, p[3], 'rect', 2, '#8f8f8f', 4));
  series.push(polygon(g, p[4], '#35c0f0', 5));
  series.push(dots(g, p[5], 'rect', 4, '#35c0f0', 5));
  series.push(polygon(g, p[6], '#1010ee', 6));
  series.push(dots(g, p[7], 'triangle', 6, '#22ee22', 7));
  series.push(dots(g, p[8], 'rect', 6, '#ff8c10', 8));
  series.push(dots(g, p[9], 'circle', 6, '#ff2a10', 9));
}

const chart = echarts.init(document.getElementById('chart'), null, { renderer: 'canvas' });
chart.setOption({
  animation: false,
  backgroundColor: '#fff',
  grid: grids,
  xAxis: xAxes,
  yAxis: yAxes,
  series: series,
  graphic: [{
    type: 'text', x: 21, y: 404, rotation: Math.PI / 2,
    style: {
      text: '{a|log(M}{s|*}{a|/L}{s|z}{a|)}',
      align: 'center', verticalAlign: 'middle',
      rich: {
        a: { fontFamily: FONT, fontSize: 20, fill: '#000' },
        s: { fontFamily: FONT, fontSize: 12, fill: '#000', padding: [12, 0, 0, 0] }
      }
    }
  }]
});
</script>
</body>
</html>
